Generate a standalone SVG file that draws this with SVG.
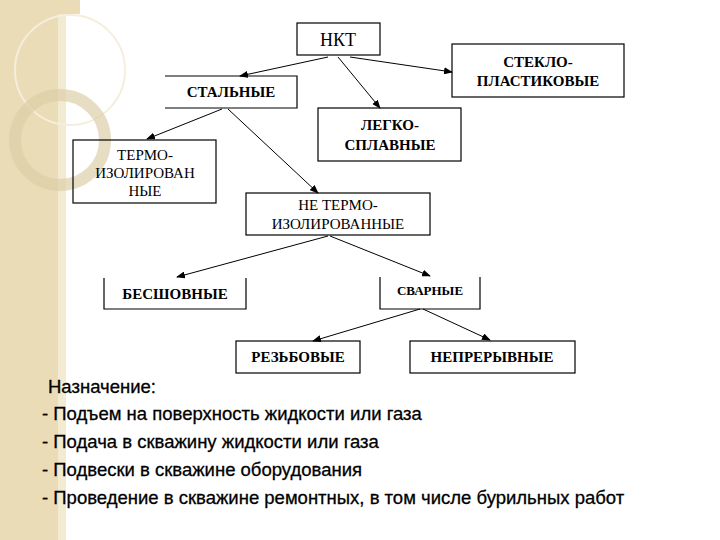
<svg xmlns="http://www.w3.org/2000/svg" width="720" height="540" viewBox="0 0 720 540">
<defs>
<style>
.b{fill:none;stroke:#000;stroke-width:1.2}
.t{font-family:"Liberation Serif","DejaVu Serif","Times New Roman",serif;font-size:15px;text-anchor:middle;fill:#000}
.k{font-weight:bold}
.c{stroke:#000;stroke-width:1;fill:none;marker-end:url(#a)}
.p{font-family:"Liberation Sans",Arial,sans-serif;font-size:18.5px;fill:#000;stroke:#000;stroke-width:0.3}
</style>
<marker id="a" markerWidth="9" markerHeight="7" refX="8" refY="3.5" orient="auto" markerUnits="userSpaceOnUse"><path d="M0,0L9,3.5L0,7z" fill="#000"/></marker>
</defs>
<rect width="720" height="540" fill="#fff"/>
<g id="decor">
<rect x="0" y="0" width="65" height="540" fill="#eadcb6"/>
<rect x="58" y="0" width="8" height="540" fill="#f3ead2"/>
<rect x="0" y="0" width="80" height="14" fill="#eadcb6"/>
<circle cx="70" cy="70" r="55" fill="none" stroke="#f5eedc" stroke-width="2"/>
<circle cx="60" cy="140" r="45" fill="none" stroke="#dccfa8" stroke-width="12" opacity="0.7"/>
</g>
<g id="connectors">
<line class="c" x1="328" y1="57" x2="240" y2="76"/>
<line class="c" x1="338" y1="57" x2="380" y2="108"/>
<line class="c" x1="350" y1="57" x2="452" y2="72"/>
<line class="c" x1="222" y1="109" x2="147" y2="139"/>
<line class="c" x1="228" y1="109" x2="318" y2="193"/>
<line class="c" x1="328" y1="236" x2="177" y2="277"/>
<line class="c" x1="330" y1="236" x2="430" y2="276"/>
<line class="c" x1="420" y1="309" x2="313" y2="341"/>
<line class="c" x1="423" y1="309" x2="490" y2="340"/>
</g>
<g id="n1"><rect class="b" x="297" y="23" width="83" height="32"/><text class="t" x="338" y="46" style="font-size:18px">НКТ</text></g>
<g id="n2"><rect class="b" x="452" y="44" width="172" height="53"/><text class="t k" x="538" y="67">СТЕКЛО-</text><text class="t k" x="538" y="86">ПЛАСТИКОВЫЕ</text></g>
<g id="n3"><path class="b" d="M165,76H297V108H165"/><text class="t k" x="231" y="97">СТАЛЬНЫЕ</text></g>
<g id="n4"><rect class="b" x="318" y="108" width="143" height="53"/><text class="t k" x="390" y="130">ЛЕГКО-</text><text class="t k" x="390" y="150">СПЛАВНЫЕ</text></g>
<g id="n5"><rect class="b" x="73" y="140" width="143" height="63"/><text class="t" x="145" y="160">ТЕРМО-</text><text class="t" x="145" y="178">ИЗОЛИРОВАН</text><text class="t" x="145" y="196">НЫЕ</text></g>
<g id="n6"><rect class="b" x="246" y="193" width="184" height="42"/><text class="t" x="338" y="210">НЕ ТЕРМО-</text><text class="t" x="338" y="229">ИЗОЛИРОВАННЫЕ</text></g>
<g id="n7"><path class="b" d="M104,278V309H246V278"/><text class="t k" x="175" y="299">БЕСШОВНЫЕ</text></g>
<g id="n8"><path class="b" d="M380,277V309H480V277"/><text class="t k" x="430" y="295" style="font-size:13px">СВАРНЫЕ</text></g>
<g id="n9"><rect class="b" x="236" y="341" width="124" height="32"/><text class="t k" x="298" y="362">РЕЗЬБОВЫЕ</text></g>
<g id="n10"><rect class="b" x="410" y="341" width="165" height="32"/><text class="t k" x="492" y="362">НЕПРЕРЫВНЫЕ</text></g>
<g id="purpose">
<text class="p" x="48" y="393">Назначение:</text>
<text class="p" x="42" y="420">- Подъем на поверхность жидкости или газа</text>
<text class="p" x="42" y="448">- Подача в скважину жидкости или газа</text>
<text class="p" x="42" y="476">- Подвески в скважине оборудования</text>
<text class="p" x="42" y="504">- Проведение в скважине ремонтных, в том числе бурильных работ</text>
</g>
</svg>
